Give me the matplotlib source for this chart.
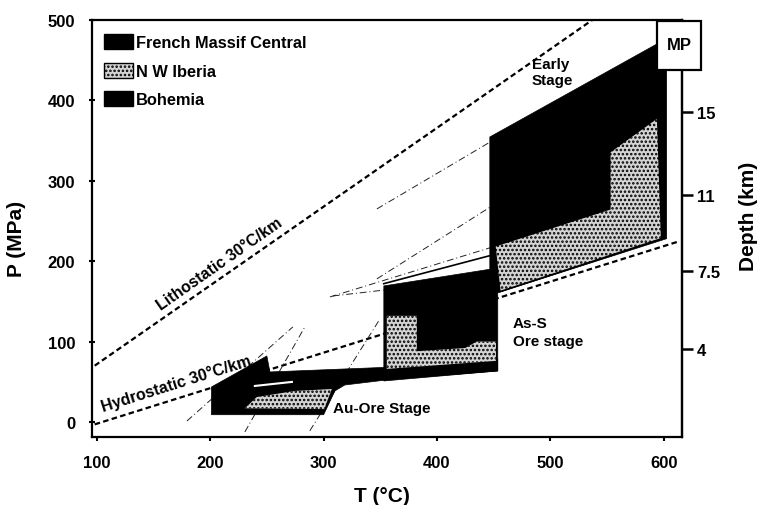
import matplotlib
matplotlib.use("Agg")
import matplotlib.pyplot as plt
from matplotlib.patches import Polygon, Patch, Rectangle

plt.rcParams['font.family'] = ['Liberation Sans', 'DejaVu Sans']
plt.rcParams['font.weight'] = 'bold'
plt.rcParams['hatch.linewidth'] = 1.2

# gradient lines (T degC, P MPa)
litho_T = [98, 537]
litho_P = [70, 500]
hydro_T = [98, 612]
hydro_P = [-3, 224]

# thin isochore-like lines
iso_lines = [
    ([347, 446.6], [265, 348]),
    ([347, 446.6], [178, 267]),
    ([305.5, 449.2], [155.5, 217.7]),
    ([308, 353], [156.7, 164]),
    ([179.4, 272.8], [1.2, 118.2]),
    ([230.5, 283.4], [-12.4, 118.2]),
    ([287.8, 349.6], [-11, 128]),
]
solid_T = [353, 447]
solid_P = [172, 207]

# early stage - French Massif Central (black)
fmc_T = [446.6, 593.8, 602.6, 602.6, 452, 452, 446.6]
fmc_P = [354.5, 470, 470, 228, 160, 190, 190]
# early stage - N W Iberia (stipple)
nwi_T = [451, 552.4, 552.4, 594.7, 598.2, 455.4]
nwi_P = [219, 265, 336, 379, 228, 162]

# As-S ore stage - Bohemia (black) box
bo_T = [353.1, 453.6, 453.6, 353.1]
bo_P = [169.2, 191.5, 63.4, 51]
# As-S stage stipple
ass_T = [355.7, 382.2, 382.2, 425, 435, 452, 452, 355.7]
ass_P = [132, 132, 88, 92, 100, 100, 76, 66]

# Au-ore stage arrow
au_T = [249.9, 252.6, 362.8, 453.6, 453.6, 362.8, 318.7, 309.9, 300, 201, 201]
au_P = [82.1, 62.2, 68.4, 78.4, 63.4, 53.5, 46, 38.6, 9, 9, 43.5]
au_st_T = [230.5, 241, 274.6, 307.2, 300.5]
au_st_P = [17, 31, 38.6, 41, 16]
streak_T = [239.3, 272]
streak_P = [44.8, 49.8]

x_ticks = [100, 200, 300, 400, 500, 600]
y_ticks = [0, 100, 200, 300, 400, 500]
depth_labels = ['4', '7.5', '11', '15']
depth_pos = [91, 188, 282, 385]

STIP = dict(fc='#d4d4d4', ec='black', hatch='....')

fig = plt.figure(figsize=(7.6, 5.06), dpi=100)
ax = fig.add_axes([0.121, 0.1344, 0.776, 0.8241])
ax.set_xlim(95.6, 615.9)
ax.set_ylim(-18.7, 500)

dash = (0, (2.5, 1.5))
ax.plot(litho_T, litho_P, color='black', lw=1.6, ls=dash, zorder=1)
ax.plot(hydro_T, hydro_P, color='black', lw=1.6, ls=dash, zorder=1)
for tt, pp in iso_lines:
    ax.plot(tt, pp, color='#222222', lw=0.7, ls=(0, (7, 3, 1, 3)), zorder=1)
ax.plot(solid_T, solid_P, color='black', lw=1.2, zorder=1)

ax.add_patch(Polygon(list(zip(fmc_T, fmc_P)), closed=True, fc='black', ec='black', lw=0.5, zorder=2))
ax.add_patch(Polygon(list(zip(nwi_T, nwi_P)), closed=True, lw=1.2, zorder=3, **STIP))
ax.add_patch(Polygon(list(zip(bo_T, bo_P)), closed=True, fc='black', ec='black', lw=0.5, zorder=2))
ax.add_patch(Polygon(list(zip(au_T, au_P)), closed=True, fc='black', ec='black', lw=0.5, zorder=2))
ax.add_patch(Polygon(list(zip(ass_T, ass_P)), closed=True, lw=0, zorder=3, **STIP))
ax.add_patch(Polygon(list(zip(au_st_T, au_st_P)), closed=True, lw=0, zorder=3, **STIP))
ax.plot(streak_T, streak_P, color='white', lw=1.5, zorder=4)

# labels
ax.text(483.6, 435, 'Early\nStage', fontsize=11, ha='left', va='center', linespacing=1.15, zorder=5)
ax.text(466.8, 112, 'As-S\nOre stage', fontsize=11, ha='left', va='center', linespacing=1.3, zorder=5)
ax.text(308, 17.4, 'Au-Ore Stage', fontsize=11, ha='left', va='center', zorder=5)
ax.text(208.5, 197, 'Lithostatic 30°C/km', fontsize=11.5, rotation=35,
        ha='center', va='center', rotation_mode='anchor', zorder=5)
ax.text(169.7, 49, 'Hydrostatic 30°C/km', fontsize=11.5, rotation=17.5,
        ha='center', va='center', rotation_mode='anchor', zorder=5)

handles = [Patch(fc='black', ec='black', label='French Massif Central'),
           Patch(label='N W Iberia', **STIP),
           Patch(fc='black', ec='black', label='Bohemia')]
ax.legend(handles=handles, loc='upper left', bbox_to_anchor=(0.0203, 0.966),
          frameon=False, fontsize=11.8, borderpad=0, borderaxespad=0,
          handlelength=1.75, handleheight=1.05, handletextpad=0.2, labelspacing=0.75)

ax.set_xticks(x_ticks)
ax.set_yticks(y_ticks)
ax.tick_params(axis='x', direction='out', length=3, width=1.5, labelsize=12, pad=10)
ax.tick_params(axis='y', direction='inout', length=4, width=1.5, labelsize=12, pad=10)
for s in ax.spines.values():
    s.set_linewidth(1.6)

ax2 = ax.twinx()
ax2.set_ylim(ax.get_ylim())
ax2.set_yticks(depth_pos)
ax2.set_yticklabels(depth_labels)
ax2.tick_params(axis='y', direction='out', length=8, width=1.8, labelsize=12, pad=3)
for s in ax2.spines.values():
    s.set_visible(False)
ax2.spines['right'].set_visible(True)
ax2.spines['right'].set_linewidth(1.6)

fig.text(382 / 760, 1 - 497 / 506, 'T (°C)', fontsize=15, ha='center', va='center')
fig.text(17 / 760, 1 - 239 / 506, 'P (MPa)', fontsize=15, rotation=90, ha='center', va='center')
fig.text(748 / 760, 1 - 216 / 506, 'Depth (km)', fontsize=15, rotation=90, ha='center', va='center')

fig.add_artist(Rectangle((657 / 760, 1 - 71 / 506), 44 / 760, 49 / 506, transform=fig.transFigure,
                         fc='white', ec='black', lw=1.6, zorder=10))
fig.text(679 / 760, 1 - 46 / 506, 'MP', fontsize=12, ha='center', va='center', zorder=11)

fig.savefig('out.png', dpi=100)
